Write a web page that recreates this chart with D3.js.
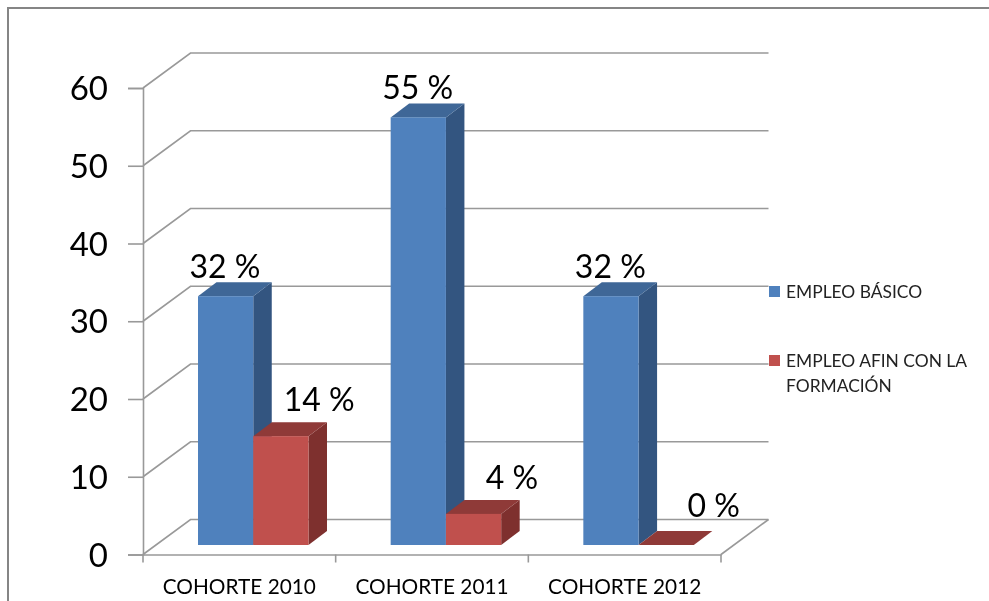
<!DOCTYPE html>
<html>
<head>
<meta charset="utf-8">
<script src="https://cdnjs.cloudflare.com/ajax/libs/d3/7.8.5/d3.min.js"></script>
<style>
  html, body { margin: 0; padding: 0; background: #fff; }
  svg { display: block; filter: blur(0.4px); }
  text { font-family: Lato, "Open Sans", sans-serif; fill: #000; }
</style>
</head>
<body>
<div class="root"></div>
<script>
var categories = ['COHORTE 2010', 'COHORTE 2011', 'COHORTE 2012'];
var seriesNames = ['EMPLEO BÁSICO', 'EMPLEO AFIN CON LA FORMACIÓN'];
var basico = [32, 55, 32];
var afin = [14, 4, 0];
var yTicks = [0, 10, 20, 30, 40, 50, 60];

var w = 989, h = 601;
var wallDx = 47.5, wallDy = 35;   // how far the back wall sits from the front axis
var barDx = 18.5, barDy = 14;     // depth of the bars
var barLift = 9.5;                // bars stand a bit behind the front edge

var colors = [
  {front: '#4f81bd', top: '#3f6797', side: '#335580'},
  {front: '#c0504d', top: '#8f3a38', side: '#7e302e'}
];

var svg = d3.select('.root').append('svg')
  .attr('width', w)
  .attr('height', h);

// frame, cut off by the picture on the right and at the bottom
svg.append('path')
  .attr('d', 'M8,' + h + 'V8H' + w)
  .attr('fill', 'none')
  .attr('stroke', '#858585')
  .attr('stroke-width', 2);

var x = d3.scaleBand().domain(categories).range([143, 721]);
var y = d3.scaleLinear().domain([0, 60]).range([554.5, 88]);
var inner = d3.scaleBand().domain([0, 1]).range([55, 165.5]);

var grid = svg.append('g')
  .attr('fill', 'none')
  .attr('stroke', '#999')
  .attr('stroke-width', 1.6);

// gridlines on the side wall and the back wall
grid.selectAll('.gridline')
  .data(yTicks)
  .enter().append('path')
    .attr('class', 'gridline')
    .attr('d', function(d) {
      return 'M143,' + y(d) + 'L' + (143 + wallDx) + ',' + (y(d) - wallDy) + 'H' + (721 + wallDx);
    });

// right edge of the floor
grid.append('path')
  .attr('d', 'M721,' + y(0) + 'L' + (721 + wallDx) + ',' + (y(0) - wallDy));

var yAxis = d3.axisLeft(y).tickValues(yTicks).tickSize(15).tickPadding(20);
var gy = svg.append('g').attr('transform', 'translate(143,0)').call(yAxis);
gy.selectAll('text').style('font-size', '33px').attr('dy', '0.35em');

var xAxis = d3.axisBottom(x).tickSize(0).tickPadding(25);
var gx = svg.append('g').attr('transform', 'translate(0,' + y(0) + ')').call(xAxis);
gx.selectAll('text').style('font-size', '20.8px');

// axisBottom puts no ticks on the band edges, so add them
gx.selectAll('.edge')
  .data(d3.range(4))
  .enter().append('line')
    .attr('class', 'edge')
    .attr('x1', function(d) { return 143 + d * x.bandwidth(); })
    .attr('x2', function(d) { return 143 + d * x.bandwidth(); })
    .attr('y1', 0)
    .attr('y2', 8);

svg.selectAll('.domain, .tick line, .edge')
  .attr('stroke', '#999')
  .attr('stroke-width', 1.6);

// one row per bar, back to front and left to right
var bars = [];
categories.forEach(function(c, i) {
  bars.push({cat: c, s: 0, value: basico[i]});
  bars.push({cat: c, s: 1, value: afin[i]});
});

var bar = svg.selectAll('.bar')
  .data(bars)
  .enter().append('g')
    .attr('class', 'bar');

bar.each(function(d) {
  var g = d3.select(this);
  var x0 = x(d.cat) + inner(d.s);
  var x1 = x0 + inner.bandwidth();
  var yb = y(0) - barLift;
  var yt = y(d.value) - barLift;
  var c = colors[d.s];

  if (d.value > 0) {
    g.append('path')
      .attr('d', 'M' + x1 + ',' + yt + 'L' + (x1 + barDx) + ',' + (yt - barDy) +
        'V' + (yb - barDy) + 'L' + x1 + ',' + yb + 'Z')
      .attr('fill', c.side);
  }
  g.append('path')
    .attr('d', 'M' + x0 + ',' + yt + 'L' + (x0 + barDx) + ',' + (yt - barDy) +
      'H' + (x1 + barDx) + 'L' + x1 + ',' + yt + 'Z')
    .attr('fill', c.top);
  if (d.value > 0) {
    g.append('rect')
      .attr('x', x0)
      .attr('y', yt)
      .attr('width', x1 - x0)
      .attr('height', yb - yt)
      .attr('fill', c.front);
  }
});

// data labels, nudged one by one like the original
var labelDx = [27, 66, 27, 66, 27, 75];
var labelDy = [18, 25, 18, 25, 18, 28];
svg.selectAll('.value')
  .data(bars)
  .enter().append('text')
    .attr('class', 'value')
    .attr('x', function(d, i) { return x(d.cat) + inner(d.s) + labelDx[i]; })
    .attr('y', function(d, i) { return y(d.value) - barLift - labelDy[i]; })
    .attr('text-anchor', 'middle')
    .style('font-size', '32px')
    .text(function(d) { return d.value + ' %'; });

// legend
var legend = svg.selectAll('.legend')
  .data(seriesNames)
  .enter().append('g')
    .attr('class', 'legend')
    .attr('transform', function(d, i) { return 'translate(769,' + (i == 0 ? 286 : 355) + ')'; });

legend.append('rect')
  .attr('width', 11)
  .attr('height', 11)
  .attr('fill', function(d, i) { return colors[i].front; });

legend.append('text')
  .attr('x', 17)
  .attr('y', 12)
  .style('font-size', '17.4px')
  .style('fill', '#222')
  .text(function(d, i) { return i == 0 ? d : 'EMPLEO AFIN CON LA'; });

legend.filter(function(d, i) { return i == 1; }).append('text')
  .attr('x', 17)
  .attr('y', 37)
  .style('font-size', '17.4px')
  .style('fill', '#222')
  .text('FORMACIÓN');
</script>
</body>
</html>
